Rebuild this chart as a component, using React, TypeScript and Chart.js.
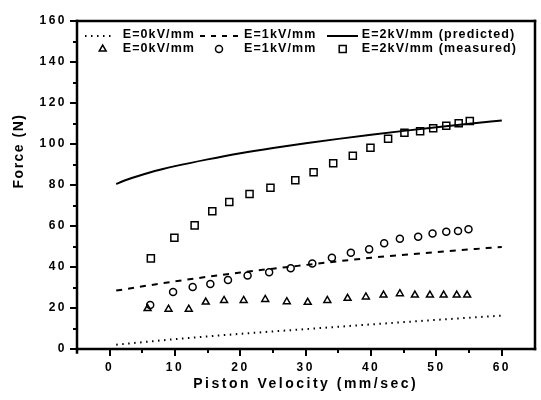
import { useEffect, useRef } from 'react';
import { Chart, registerables } from 'chart.js';

Chart.register(...registerables);

const FONT = '"Liberation Sans", Arial, Helvetica, sans-serif';

// Measured force, E = 0 kV/mm (triangles)
const velE0 = [5.8, 9.0, 12.1, 14.7, 17.5, 20.5, 23.8, 27.1, 30.3, 33.3, 36.4, 39.2, 41.9, 44.4, 46.7, 49.0, 51.1, 53.1, 54.7];
const forceE0 = [19.7, 19.4, 19.4, 22.9, 23.7, 23.7, 24.2, 23.1, 22.8, 23.7, 24.7, 25.4, 26.3, 27.0, 26.3, 26.3, 26.3, 26.3, 26.3];

// Measured force, E = 1 kV/mm (circles)
const velE1 = [6.2, 9.7, 12.7, 15.4, 18.1, 21.1, 24.4, 27.7, 31.0, 34.0, 36.9, 39.7, 42.0, 44.4, 47.2, 49.4, 51.5, 53.3, 54.9];
const forceE1 = [21.5, 27.8, 30.2, 31.7, 33.7, 35.8, 37.4, 39.4, 41.7, 44.5, 47.0, 48.6, 51.6, 53.8, 54.8, 56.3, 57.2, 57.6, 58.4];

// Measured force, E = 2 kV/mm (squares)
const velE2 = [6.3, 9.9, 13.0, 15.7, 18.3, 21.4, 24.6, 28.4, 31.2, 34.2, 37.2, 39.9, 42.6, 45.1, 47.5, 49.5, 51.5, 53.4, 55.1];
const forceE2 = [44.2, 54.3, 60.3, 67.2, 71.7, 75.6, 78.7, 82.3, 86.2, 90.6, 94.3, 98.2, 102.6, 105.5, 106.2, 107.7, 108.9, 110.1, 111.2];

// Predicted curves
const predVelE0 = [1, 10, 20, 30, 40, 50, 60];
const predE0 = [2.1, 4.8, 7.4, 9.7, 12.0, 14.2, 16.3];
const predVelE1 = [1, 10, 20, 30, 40, 50, 60];
const predE1 = [28.5, 33.0, 37.3, 41.0, 44.5, 47.3, 49.8];
const predVelE2 = [1, 2, 4, 6, 8, 10, 15, 20, 25, 30, 35, 40, 45, 50, 55, 60];
const predE2 = [80.5, 81.8, 84.0, 86.0, 87.7, 89.2, 92.5, 95.5, 98.1, 100.4, 102.5, 104.5, 106.4, 108.2, 109.9, 111.5];

// Axis ticks
const xMajor = [0, 10, 20, 30, 40, 50, 60];
const xMinor = [5, 15, 25, 35, 45, 55];
const yMajor = [0, 20, 40, 60, 80, 100, 120, 140, 160];
const yMinor = [10, 30, 50, 70, 90, 110, 130, 150];

const lineLabels = ['E=0kV/mm', 'E=1kV/mm', 'E=2kV/mm (predicted)'];
const markerLabels = ['E=0kV/mm', 'E=1kV/mm', 'E=2kV/mm (measured)'];

const toPoints = (xs: number[], ys: number[]) => xs.map((x, i) => ({ x, y: ys[i] }));

function drawMarker(ctx: CanvasRenderingContext2D, style: string, x: number, y: number) {
  ctx.beginPath();
  if (style === 'triangle') {
    const r = 4;
    for (let k = 0; k < 3; k++) {
      const a = (k * 2 * Math.PI) / 3;
      const px = x + Math.sin(a) * r;
      const py = y - Math.cos(a) * r;
      if (k === 0) ctx.moveTo(px, py);
      else ctx.lineTo(px, py);
    }
    ctx.closePath();
  } else if (style === 'circle') {
    ctx.arc(x, y, 3.5, 0, Math.PI * 2);
  } else {
    ctx.rect(x - 3.5, y - 3.5, 7, 7);
  }
  ctx.stroke();
}

const decor = {
  id: 'decor',
  beforeLayout(chart: any) {
    chart.ctx.letterSpacing = '2.5px';
  },
  beforeDraw(chart: any) {
    chart.ctx.letterSpacing = '2.5px';
  },
  afterDraw(chart: any) {
    const { ctx, chartArea: a, scales } = chart;
    const xs = scales.x;
    const ys = scales.y;
    ctx.save();
    ctx.setLineDash([]);
    ctx.strokeStyle = '#000';
    ctx.fillStyle = '#000';

    const L = Math.round(a.left);
    const R = Math.round(a.right);
    const T = Math.round(a.top);
    const B = Math.round(a.bottom);
    const w = 2.5;

    // box around the plot area
    ctx.fillRect(L - w / 2, T - w / 2, w, B - T + 6);
    ctx.fillRect(L - w / 2, B - w / 2, R - L + w, w);
    ctx.fillRect(L - w / 2, T - w / 2, R - L + w, w);
    ctx.fillRect(R - w / 2, T - w / 2, w, B - T + w);

    // major tick marks
    for (const v of xMajor) {
      const px = Math.round(xs.getPixelForValue(v));
      ctx.fillRect(px - 1, B, 2, 7);
    }
    for (const v of yMajor) {
      const py = Math.round(ys.getPixelForValue(v));
      ctx.fillRect(L - 7, py - 1, 7, 2);
    }
    // minor tick marks
    for (const v of xMinor) {
      const px = Math.round(xs.getPixelForValue(v));
      ctx.fillRect(px - 1, B, 2, 4);
    }
    for (const v of yMinor) {
      const py = Math.round(ys.getPixelForValue(v));
      ctx.fillRect(L - 4, py - 1, 4, 2);
    }

    // y-axis title
    ctx.save();
    ctx.translate(19, 151);
    ctx.rotate(-Math.PI / 2);
    ctx.font = `bold 14px ${FONT}`;
    ctx.letterSpacing = '1.5px';
    ctx.textAlign = 'center';
    ctx.textBaseline = 'middle';
    ctx.fillText('Force (N)', 0, 0);
    ctx.restore();

    // legend
    ctx.font = `bold 12.5px ${FONT}`;
    ctx.letterSpacing = '1.1px';
    ctx.textAlign = 'left';
    ctx.textBaseline = 'middle';
    const row1 = 35;
    const row2 = 49;
    const textX = [122.7, 244, 361.7];
    lineLabels.forEach((t, i) => ctx.fillText(t, textX[i], row1));
    markerLabels.forEach((t, i) => ctx.fillText(t, textX[i], row2));

    ctx.lineWidth = 2;
    ctx.setLineDash([1.5, 4.5]);
    ctx.beginPath();
    ctx.moveTo(85, row1 + 1);
    ctx.lineTo(111, row1 + 1);
    ctx.stroke();
    ctx.setLineDash([5, 6]);
    ctx.beginPath();
    ctx.moveTo(200, row1 + 1);
    ctx.lineTo(238, row1 + 1);
    ctx.stroke();
    ctx.setLineDash([]);
    ctx.beginPath();
    ctx.moveTo(327, row1 + 1);
    ctx.lineTo(358, row1 + 1);
    ctx.stroke();

    ctx.lineWidth = 1.5;
    drawMarker(ctx, 'triangle', 102.7, row2);
    drawMarker(ctx, 'circle', 219, row2);
    drawMarker(ctx, 'rect', 342.7, row2);

    ctx.restore();
  },
};

export default function App() {
  const canvasRef = useRef<HTMLCanvasElement | null>(null);

  useEffect(() => {
    const canvas = canvasRef.current;
    if (!canvas) return;

    const tickFont = { family: FONT, size: 12, weight: 'bold' as const };
    const titleFont = { family: FONT, size: 14, weight: 'bold' as const };

    const markerBase = {
      showLine: false,
      borderColor: '#000',
      backgroundColor: 'rgba(0,0,0,0)',
      pointBorderWidth: 1.5,
    };
    const lineBase = {
      showLine: true,
      pointRadius: 0,
      borderColor: '#000',
      borderWidth: 2,
      cubicInterpolationMode: 'monotone' as const,
      fill: false,
    };

    const chart = new Chart(canvas, {
      type: 'scatter',
      data: {
        datasets: [
          { ...lineBase, label: lineLabels[0], data: toPoints(predVelE0, predE0), borderDash: [1.5, 4.5] },
          { ...lineBase, label: lineLabels[1], data: toPoints(predVelE1, predE1), borderDash: [6, 6] },
          { ...lineBase, label: lineLabels[2], data: toPoints(predVelE2, predE2) },
          { ...markerBase, label: markerLabels[0], data: toPoints(velE0, forceE0), pointStyle: 'triangle', pointRadius: 4 },
          { ...markerBase, label: markerLabels[1], data: toPoints(velE1, forceE1), pointStyle: 'circle', pointRadius: 3.5 },
          { ...markerBase, label: markerLabels[2], data: toPoints(velE2, forceE2), pointStyle: 'rect', pointRadius: 5 },
        ],
      },
      options: {
        responsive: false,
        animation: false,
        events: [],
        layout: { padding: { top: 21, right: 2, left: 0, bottom: 0 } },
        plugins: {
          legend: { display: false },
          tooltip: { enabled: false },
        },
        scales: {
          x: {
            type: 'linear',
            min: -5,
            max: 65,
            afterBuildTicks: (s: any) => {
              s.ticks = xMajor.map((value) => ({ value }));
            },
            afterFit: (s: any) => {
              s.height = 51;
              s.paddingLeft = 0;
              s.paddingRight = 0;
            },
            border: { display: false },
            grid: { display: true, drawOnChartArea: false, drawTicks: true, tickLength: 7, tickColor: 'rgba(0,0,0,0)' },
            ticks: { color: '#000', font: tickFont, padding: 4, maxRotation: 0, autoSkip: false },
            title: {
              display: true,
              text: 'Piston Velocity (mm/sec)',
              color: '#000',
              font: titleFont,
              padding: { top: 0, bottom: 7 },
            },
          },
          y: {
            type: 'linear',
            min: 0,
            max: 160,
            afterBuildTicks: (s: any) => {
              s.ticks = yMajor.map((value) => ({ value }));
            },
            afterFit: (s: any) => {
              s.width = 77;
              s.paddingTop = 0;
              s.paddingBottom = 0;
            },
            border: { display: false },
            grid: { display: true, drawOnChartArea: false, drawTicks: true, tickLength: 7, tickColor: 'rgba(0,0,0,0)' },
            ticks: { color: '#000', font: tickFont, padding: 3, autoSkip: false },
          },
        },
      },
      plugins: [decor],
    });

    return () => chart.destroy();
  }, []);

  return (
    <div style={{ position: 'absolute', left: 0, top: 0, width: 541, height: 400, background: '#fff' }}>
      <canvas ref={canvasRef} width={541} height={400} style={{ display: 'block' }} />
    </div>
  );
}
